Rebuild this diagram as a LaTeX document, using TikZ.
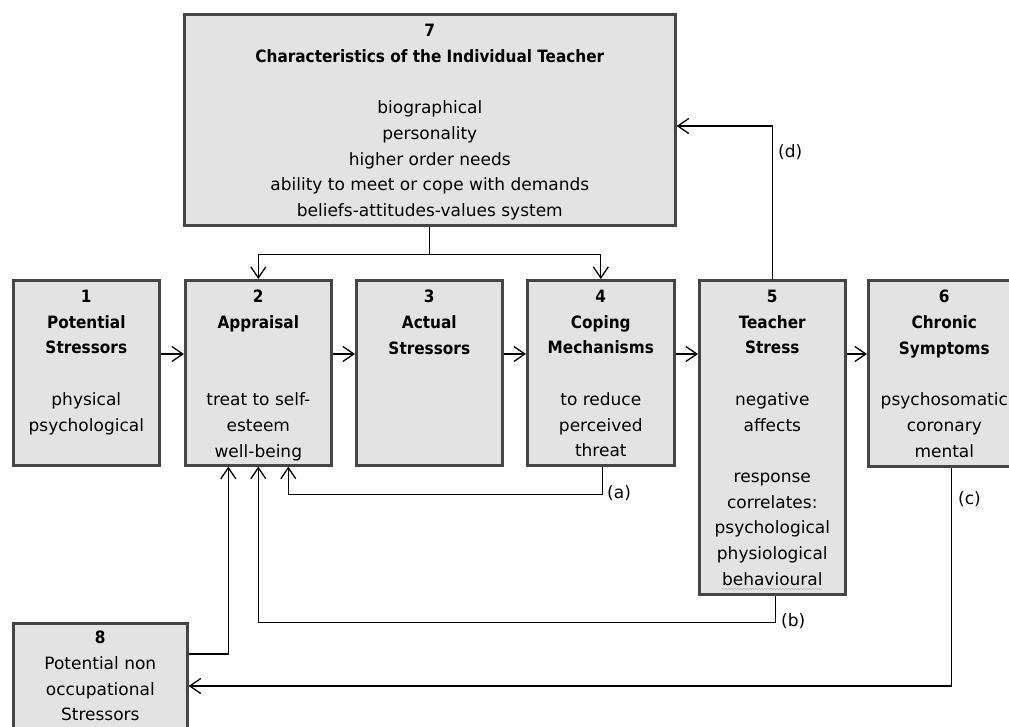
\documentclass[tikz,border=0pt]{standalone}
\usepackage{fontspec}
\setmainfont{DejaVu Sans}[BoldFont={DejaVu Sans Condensed Bold}]
\usetikzlibrary{arrows.meta,calc,decorations.pathmorphing}
\definecolor{boxfill}{HTML}{E3E3E3}
\definecolor{boxline}{HTML}{454545}
\begin{document}
\begin{tikzpicture}[x=1pt,y=-1pt,
  box/.style={draw=boxline, fill=boxfill, line width=2.6pt, inner sep=0, anchor=north west},
  txt/.style={anchor=north, align=center, inner sep=0, font=\fontsize{17}{25.7}\selectfont},
  lab/.style={anchor=west, inner sep=0, font=\fontsize{17}{18}\selectfont},
  conn/.style={line width=1.3pt, draw=black, -{Straight Barb[length=11pt,width=15pt,line width=1.3pt]}},
  plain/.style={line width=1.3pt, draw=black}]
\clip (0,0) rectangle (1009,727);
\fill[white] (0,0) rectangle (1009,727);
% boxes
\node[box, minimum width=491pt, minimum height=211pt] (b7) at (183,13) {};
\node[box, minimum width=146pt, minimum height=185pt] (b1) at (12,279) {};
\node[box, minimum width=146pt, minimum height=185pt] (b2) at (184,279) {};
\node[box, minimum width=146pt, minimum height=185pt] (b3) at (355,279) {};
\node[box, minimum width=147pt, minimum height=185pt] (b4) at (526,279) {};
\node[box, minimum width=146pt, minimum height=314pt] (b5) at (698,279) {};
\node[box, minimum width=152pt, minimum height=186pt] (b6) at (867,279) {};
\node[box, minimum width=174pt, minimum height=130pt] (b8) at (12,622) {};
% texts
\node[txt] (t7) at ($(b7.north)+(0,11)$) {\textbf{7}\\\textbf{Characteristics of the Individual Teacher}\\[25.7pt]biographical\\personality\\higher order needs\\ability to meet or cope with demands\\beliefs-attitudes-values system};
\node[txt] (t1) at ($(b1.north)+(0,11)$) {\textbf{1}\\\textbf{Potential}\\\textbf{Stressors}\\[25.7pt]physical\\psychological};
\node[txt] (t2) at ($(b2.north)+(0,11)$) {\textbf{2}\\\textbf{Appraisal}\\[51.4pt]treat to self-\\esteem\\well-being};
\node[txt] (t3) at ($(b3.north)+(0,11)$) {\textbf{3}\\\textbf{Actual}\\\textbf{Stressors}};
\node[txt] (t4) at ($(b4.north)+(0,11)$) {\textbf{4}\\\textbf{Coping}\\\textbf{Mechanisms}\\[25.7pt]to reduce\\perceived\\threat};
\node[txt] (t5) at ($(b5.north)+(0,11)$) {\textbf{5}\\\textbf{Teacher}\\\textbf{Stress}\\[25.7pt]negative\\affects\\[25.7pt]response\\correlates:\\psychological\\physiological\\behavioural};
\node[txt] (t6) at ($(b6.north)+(0,11)$) {\textbf{6}\\\textbf{Chronic}\\\textbf{Symptoms}\\[25.7pt]psychosomatic\\coronary\\mental};
\node[txt] (t8) at ($(b8.north)+(0,9)$) {\textbf{8}\\Potential non\\occupational\\Stressors};
% spell-check underline
\draw[gray!60, line width=0.6pt, decorate, decoration={snake, amplitude=0.6pt, segment length=3pt}] (722,589) -- (822,589);
% main chain
\draw[conn] ($(b1.north east)+(0,75)$) -- ($(b2.north west)+(0,75)$);
\draw[conn] ($(b2.north east)+(0,75)$) -- ($(b3.north west)+(0,75)$);
\draw[conn] ($(b3.north east)+(0,75)$) -- ($(b4.north west)+(0,75)$);
\draw[conn] ($(b4.north east)+(0,75)$) -- ($(b5.north west)+(0,75)$);
\draw[conn] ($(b5.north east)+(0,75)$) -- ($(b6.north west)+(0,75)$);
% from 7
\draw[plain] (b7.south) -- ++(0,28) coordinate (j7);
\draw[conn] (j7) -| (b2.north);
\draw[conn] (j7) -| (b4.north);
% (d)
\draw[conn] (b5.north) |- ($(b7.north east)+(0,113)$);
\node[lab] (ld) at (778,152) {(d)};
% (a)
\draw[conn] ($(b4.south)+(2,0)$) |- ($(b2.south)+(60,28)$) -| ($(b2.south)+(30,0)$);
\node[lab] (la) at (607,493) {(a)};
% (b)
\draw[conn] ($(b5.south)+(3,0)$) |- ($(b2.south)+(30,156)$) -| (b2.south);
\node[lab] (lb) at (781,621) {(b)};
% 8 -> 2
\draw[conn] ($(b8.north east)+(0,32)$) -| ($(b2.south)+(-30,0)$);
% (c)
\draw[conn] ($(b6.south)+(7,0)$) |- ($(b8.north east)+(0,64)$);
\node[lab] (lc) at (958,499) {(c)};
\end{tikzpicture}
\end{document}
